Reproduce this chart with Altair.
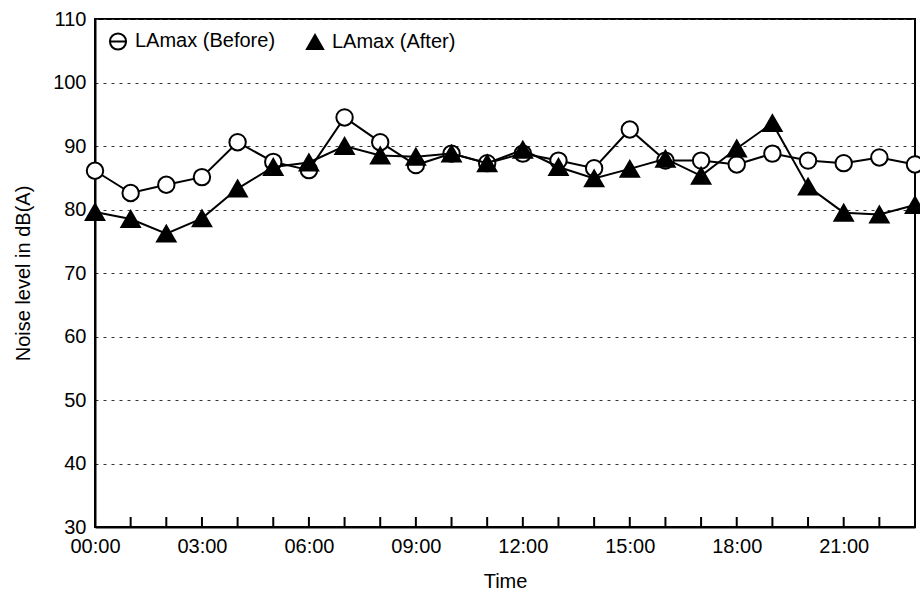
import altair as alt
import pandas as pd

# ---- data ----
times = ["00:00", "01:00", "02:00", "03:00", "04:00", "05:00", "06:00", "07:00",
         "08:00", "09:00", "10:00", "11:00", "12:00", "13:00", "14:00", "15:00",
         "16:00", "17:00", "18:00", "19:00", "20:00", "21:00", "22:00", "23:00"]
before = [86.1, 82.6, 83.9, 85.1, 90.6, 87.5, 86.2, 94.5, 90.6, 87.0, 88.8, 87.3,
          88.8, 87.7, 86.5, 92.6, 87.7, 87.7, 87.1, 88.8, 87.7, 87.3, 88.2, 87.1]
after = [79.6, 78.5, 76.2, 78.6, 83.3, 86.7, 87.4, 90.0, 88.5, 88.3, 88.8, 87.3,
         89.4, 86.7, 84.9, 86.4, 88.0, 85.3, 89.6, 93.6, 83.6, 79.5, 79.2, 80.7]
x_tick_labels = ["00:00", "03:00", "06:00", "09:00", "12:00", "15:00", "18:00", "21:00"]
y_ticks = [30, 40, 50, 60, 70, 80, 90, 100, 110]
series_names = ["LAmax (Before)", "LAmax (After)"]

df = pd.DataFrame({
    "time": times * 2,
    "value": before + after,
    "series": [series_names[0]] * len(times) + [series_names[1]] * len(times),
})
ticks_df = pd.DataFrame({"time": times})

W, H = 820, 508
FONT = "Liberation Sans"
FS = 20
CIRCLE_BAR = "M-1,0A1,1,0,1,1,1,0A1,1,0,1,1,-1,0ZM-1,0L1,0"

x = alt.X(
    "time:O",
    sort=times,
    scale=alt.Scale(type="point", padding=0, domain=times),
    axis=alt.Axis(values=x_tick_labels, title="Time", ticks=False, labelAngle=0,
                  labelPadding=9, grid=False, titleY=60, titleBaseline="alphabetic"),
)
y = alt.Y(
    "value:Q",
    scale=alt.Scale(domain=[30, 110], nice=False, zero=False),
    axis=alt.Axis(values=y_ticks, title="Noise level in dB(A)", grid=True,
                  gridDash=[3, 5], gridColor="#333", gridWidth=1, ticks=False,
                  labelPadding=9, titleX=-66, titleY=254, titleBaseline="alphabetic"),
)

base = alt.Chart(df)

tick_rules = alt.Chart(ticks_df).mark_rule(color="black", strokeWidth=2).encode(
    x=x, y=alt.value(H), y2=alt.value(H - 10)
)


def series_layers(name, shape, fill, size):
    d = base.transform_filter(alt.datum.series == name)
    line = d.mark_line(color="black", strokeWidth=2).encode(x=x, y=y)
    pts = d.mark_point(shape=shape, size=size, filled=True, fill=fill, stroke="black",
                       strokeWidth=2, opacity=1).encode(x=x, y=y)
    return [line, pts]


legend_def = alt.Legend(
    title=None, orient="none", legendX=13, legendY=12, direction="horizontal",
    labelFont=FONT, labelFontSize=FS, labelColor="black", symbolSize=260,
    symbolStrokeWidth=2, labelOffset=7, columnPadding=26, padding=0,
)

legend_layer = base.transform_filter(alt.datum.value < 0).mark_point(
    filled=True, strokeWidth=2, opacity=1
).encode(
    x=x, y=y,
    shape=alt.Shape("series:N", scale=alt.Scale(domain=series_names, range=[CIRCLE_BAR, "triangle-up"]),
                    legend=legend_def),
    fill=alt.Fill("series:N", scale=alt.Scale(domain=series_names, range=["white", "black"]),
                  legend=legend_def),
    stroke=alt.Stroke("series:N", scale=alt.Scale(domain=series_names, range=["black", "black"]),
                      legend=legend_def),
)

layers = [tick_rules]
layers += series_layers(series_names[0], "circle", "white", 270)
layers += series_layers(series_names[1], "triangle-up", "black", 340)
layers.append(legend_layer)

chart = alt.layer(*layers).properties(
    width=W, height=H,
    autosize=alt.AutoSizeParams(type="none"),
    padding={"left": 95, "top": 19, "right": 5, "bottom": 68},
    background="white",
).configure_view(
    stroke="black", strokeWidth=2
).configure_axis(
    labelFont=FONT, titleFont=FONT, labelFontSize=FS, titleFontSize=FS,
    labelColor="black", titleColor="black", titleFontWeight="normal",
    domainColor="black", domainWidth=2,
)

chart.save("out.html", embed_options={"renderer": "svg", "actions": False})
